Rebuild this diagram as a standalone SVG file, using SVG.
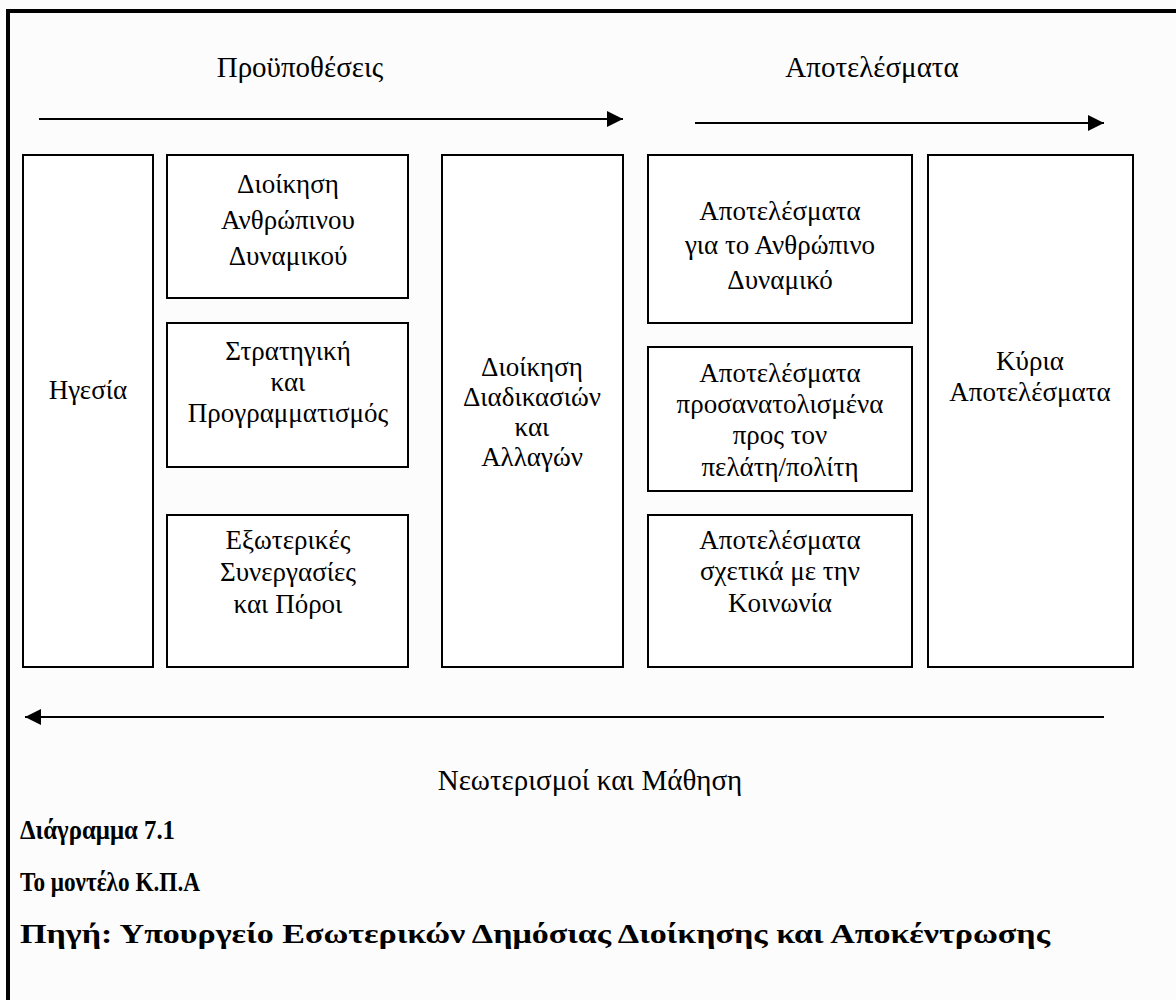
<svg xmlns="http://www.w3.org/2000/svg" width="1176" height="1000" viewBox="0 0 1176 1000">
<style>
.box{fill:#fff;stroke:#000;stroke-width:2}
.t{font-family:"Liberation Serif","DejaVu Serif",serif;font-size:27px;fill:#000;text-anchor:middle}
.h{font-family:"Liberation Serif","DejaVu Serif",serif;font-size:29px;fill:#000;text-anchor:middle}
.c{font-family:"Liberation Serif","DejaVu Serif",serif;font-size:28px;font-weight:bold;fill:#000}
.ln{stroke:#000;stroke-width:2;fill:none}
</style>
<defs>
<marker id="ah" viewBox="0 0 16 16" refX="16" refY="8" markerWidth="16" markerHeight="16" markerUnits="userSpaceOnUse" orient="auto">
<path d="M0,0 L16,8 L0,16 Z" fill="#000"/>
</marker>
</defs>
<rect x="0" y="0" width="1176" height="1000" fill="#fcfcfc"/>
<path d="M8,1000 L8,11 L1176,11" fill="none" stroke="#000" stroke-width="4"/>
<text class="h" x="300" y="77">Προϋποθέσεις</text>
<text class="h" x="872" y="77">Αποτελέσματα</text>
<g id="connectors">
<line class="ln" x1="39" y1="119" x2="623" y2="119" marker-end="url(#ah)"/>
<line class="ln" x1="695" y1="123" x2="1104" y2="123" marker-end="url(#ah)"/>
<line class="ln" x1="1104" y1="717" x2="25" y2="717" marker-end="url(#ah)"/>
</g>
<g id="n-igesia">
<rect class="box" x="23" y="155" width="130" height="512"/>
<text class="t" x="88" y="399">Ηγεσία</text>
</g>
<g id="n-dad">
<rect class="box" x="167" y="155" width="241" height="143"/>
<text class="t" x="288" y="193">Διοίκηση</text>
<text class="t" x="288" y="229">Ανθρώπινου</text>
<text class="t" x="288" y="265">Δυναμικού</text>
</g>
<g id="n-strat">
<rect class="box" x="167" y="323" width="241" height="144"/>
<text class="t" x="288" y="360">Στρατηγική</text>
<text class="t" x="288" y="391">και</text>
<text class="t" x="288" y="422">Προγραμματισμός</text>
</g>
<g id="n-exo">
<rect class="box" x="167" y="515" width="241" height="152"/>
<text class="t" x="288" y="549">Εξωτερικές</text>
<text class="t" x="288" y="581">Συνεργασίες</text>
<text class="t" x="288" y="613">και Πόροι</text>
</g>
<g id="n-diad">
<rect class="box" x="442" y="155" width="181" height="512"/>
<text class="t" x="532" y="376">Διοίκηση</text>
<text class="t" x="532" y="406">Διαδικασιών</text>
<text class="t" x="532" y="436">και</text>
<text class="t" x="532" y="466">Αλλαγών</text>
</g>
<g id="n-apo1">
<rect class="box" x="648" y="155" width="264" height="168"/>
<text class="t" x="780" y="220">Αποτελέσματα</text>
<text class="t" x="780" y="254">για το Ανθρώπινο</text>
<text class="t" x="780" y="289">Δυναμικό</text>
</g>
<g id="n-apo2">
<rect class="box" x="648" y="347" width="264" height="144"/>
<text class="t" x="780" y="382">Αποτελέσματα</text>
<text class="t" x="780" y="413">προσανατολισμένα</text>
<text class="t" x="780" y="444">προς τον</text>
<text class="t" x="780" y="476">πελάτη/πολίτη</text>
</g>
<g id="n-apo3">
<rect class="box" x="648" y="515" width="264" height="152"/>
<text class="t" x="780" y="549">Αποτελέσματα</text>
<text class="t" x="780" y="580">σχετικά με την</text>
<text class="t" x="780" y="612">Κοινωνία</text>
</g>
<g id="n-kyria">
<rect class="box" x="928" y="155" width="205" height="512"/>
<text class="t" x="1030" y="370">Κύρια</text>
<text class="t" x="1030" y="401">Αποτελέσματα</text>
</g>
<text class="h" x="590" y="790">Νεωτερισμοί και Μάθηση</text>
<text class="c" x="20" y="839" textLength="155" lengthAdjust="spacingAndGlyphs">Διάγραμμα 7.1</text>
<text class="c" x="20" y="891" textLength="180" lengthAdjust="spacingAndGlyphs">Το μοντέλο Κ.Π.Α</text>
<text class="c" x="20" y="943" textLength="1030" lengthAdjust="spacingAndGlyphs">Πηγή: Υπουργείο Εσωτερικών Δημόσιας Διοίκησης και Αποκέντρωσης</text>
</svg>
